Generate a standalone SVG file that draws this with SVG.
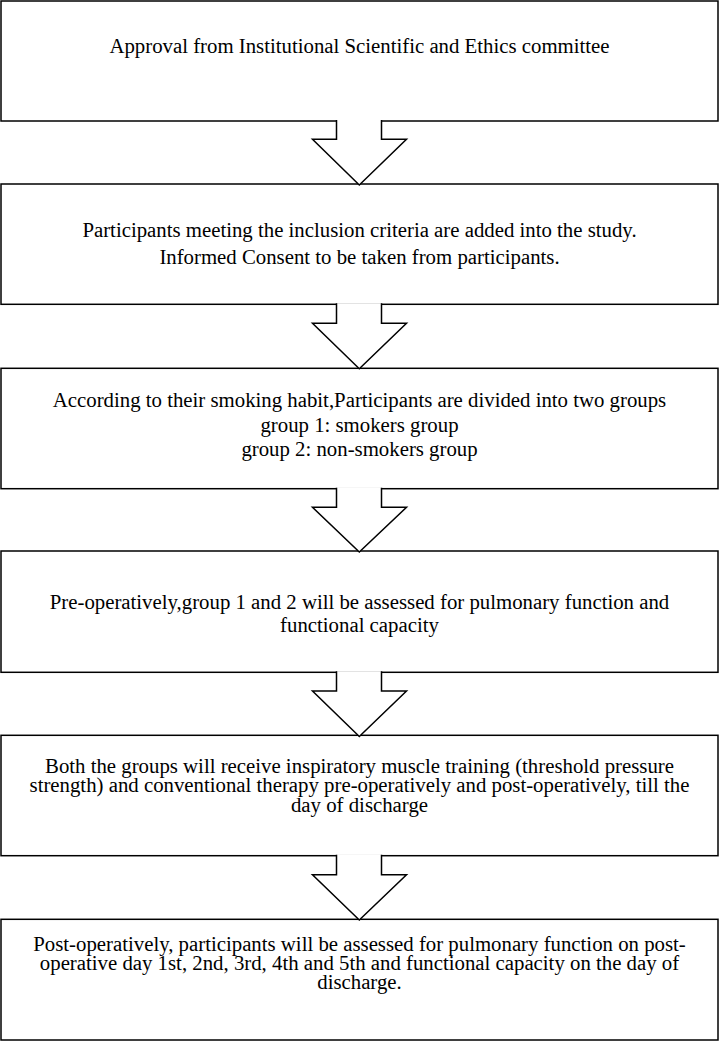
<svg xmlns="http://www.w3.org/2000/svg" width="719" height="1041" viewBox="0 0 719 1041">
  <style>
    .box { fill: #ffffff; stroke: #000000; stroke-width: 1.5; }
    .lbl { font-family: "Liberation Serif", "Times New Roman", serif; font-size: 20.8px; fill: #000000; text-anchor: middle; }
    .arr { fill: #ffffff; stroke: #000000; stroke-width: 1.5; stroke-linejoin: miter; }
  </style>
  <rect x="0" y="0" width="719" height="1041" fill="#ffffff"/>
  <g id="node1">
    <rect class="box" x="1" y="1" width="717" height="120"/>
    <text class="lbl" x="359.5" y="53">Approval from Institutional Scientific and Ethics committee</text>
  </g>
  <g id="node2">
    <rect class="box" x="1" y="184" width="717" height="120.3"/>
    <text class="lbl" x="359.5" y="237.3">Participants meeting the inclusion criteria are added into the study.</text>
    <text class="lbl" x="359.5" y="264">Informed Consent to be taken from participants.</text>
  </g>
  <g id="node3">
    <rect class="box" x="1" y="368.3" width="717" height="120.4"/>
    <text class="lbl" x="359.5" y="407.3">According to their smoking habit,Participants are divided into two groups</text>
    <text class="lbl" x="359.5" y="431.7">group 1: smokers group</text>
    <text class="lbl" x="359.5" y="456">group 2: non-smokers group</text>
  </g>
  <g id="node4">
    <rect class="box" x="1" y="551" width="717" height="121.3"/>
    <text class="lbl" x="359.5" y="609.3">Pre-operatively,group 1 and 2 will be assessed for pulmonary function and</text>
    <text class="lbl" x="359.5" y="631.7">functional capacity</text>
  </g>
  <g id="node5">
    <rect class="box" x="1" y="735.3" width="717" height="120.4"/>
    <text class="lbl" x="359.5" y="772.7">Both the groups will receive inspiratory muscle training (threshold pressure</text>
    <text class="lbl" x="359.5" y="792.3">strength) and conventional therapy pre-operatively and post-operatively, till the</text>
    <text class="lbl" x="359.5" y="811.7">day of discharge</text>
  </g>
  <g id="node6">
    <rect class="box" x="1" y="919.3" width="717" height="120.7"/>
    <text class="lbl" x="359.5" y="951">Post-operatively, participants will be assessed for pulmonary function on post-</text>
    <text class="lbl" x="359.5" y="970">operative day 1st, 2nd, 3rd, 4th and 5th and functional capacity on the day of</text>
    <text class="lbl" x="359.5" y="989">discharge.</text>
  </g>
  <g id="connectors">
    <path class="arr" d="M336.5,120 L336.5,139.3 L312.5,139.3 L359.3,185 L406.5,139.3 L381.5,139.3 L381.5,120"/>
    <path class="arr" d="M336.5,303.3 L336.5,323.3 L312.5,323.3 L359.3,368.8 L406.5,323.3 L381.5,323.3 L381.5,303.3"/>
    <path class="arr" d="M336.5,487.7 L336.5,507.3 L312.5,507.3 L359.3,552 L406.5,507.3 L381.5,507.3 L381.5,487.7"/>
    <path class="arr" d="M336.5,671.3 L336.5,691 L312.5,691 L359.3,736.5 L406.5,691 L381.5,691 L381.5,671.3"/>
    <path class="arr" d="M336.5,854.7 L336.5,874.7 L312.5,874.7 L359.3,920 L406.5,874.7 L381.5,874.7 L381.5,854.7"/>
  </g>
</svg>
